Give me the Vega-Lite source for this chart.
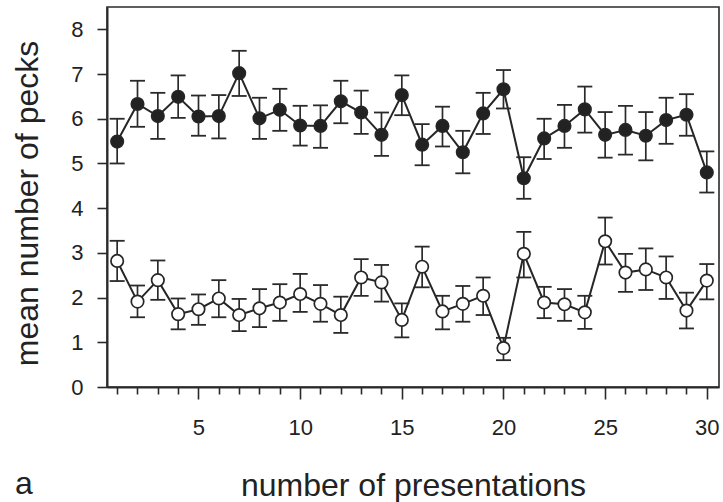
{
  "$schema": "https://vega.github.io/schema/vega-lite/v6.json",
  "width": 612,
  "height": 380,
  "autosize": {"type": "none"},
  "padding": {"left": 107, "top": 7, "right": 4, "bottom": 115},
  "background": "white",
  "config": {
    "view": {"stroke": "#2a2a2a", "strokeWidth": 1.6},
    "font": "Liberation Sans",
    "axis": {"grid": false},
    "axisY": {
      "titleFont": "Liberation Sans",
      "titleFontSize": 32,
      "titleFontWeight": "normal",
      "titleColor": "#222",
      "titleAngle": -90,
      "titleX": -70,
      "titleY": 196,
      "titleAlign": "center",
      "titleBaseline": "alphabetic",
      "labelFont": "Liberation Sans",
      "labelFontSize": 22,
      "labelColor": "#222",
      "labelPadding": 14,
      "tickSize": 10,
      "tickWidth": 1.6,
      "tickColor": "#2a2a2a",
      "domainColor": "#2a2a2a",
      "domainWidth": 2
    }
  },
  "title": {
    "text": "a",
    "orient": "bottom",
    "anchor": "start",
    "frame": "group",
    "fontSize": 32,
    "fontWeight": "normal",
    "font": "Liberation Sans",
    "color": "#222",
    "baseline": "alphabetic",
    "dx": -92,
    "offset": 0,
    "dy": -7
  },
  "data": {
    "values": [
      {"n": 1, "g": "filled", "m": 5.49, "lo": 5.0, "hi": 6.0},
      {"n": 2, "g": "filled", "m": 6.33, "lo": 5.82, "hi": 6.85},
      {"n": 3, "g": "filled", "m": 6.06, "lo": 5.55, "hi": 6.58},
      {"n": 4, "g": "filled", "m": 6.49, "lo": 6.02, "hi": 6.97},
      {"n": 5, "g": "filled", "m": 6.05, "lo": 5.62, "hi": 6.52},
      {"n": 6, "g": "filled", "m": 6.06, "lo": 5.56, "hi": 6.53},
      {"n": 7, "g": "filled", "m": 7.02, "lo": 6.51, "hi": 7.52},
      {"n": 8, "g": "filled", "m": 6.01, "lo": 5.55, "hi": 6.47},
      {"n": 9, "g": "filled", "m": 6.2, "lo": 5.73, "hi": 6.67},
      {"n": 10, "g": "filled", "m": 5.85, "lo": 5.4, "hi": 6.29},
      {"n": 11, "g": "filled", "m": 5.84, "lo": 5.35, "hi": 6.3},
      {"n": 12, "g": "filled", "m": 6.39, "lo": 5.9, "hi": 6.85},
      {"n": 13, "g": "filled", "m": 6.14, "lo": 5.66, "hi": 6.63},
      {"n": 14, "g": "filled", "m": 5.64, "lo": 5.17, "hi": 6.14},
      {"n": 15, "g": "filled", "m": 6.53, "lo": 6.08, "hi": 6.97},
      {"n": 16, "g": "filled", "m": 5.42, "lo": 4.96, "hi": 5.88},
      {"n": 17, "g": "filled", "m": 5.84, "lo": 5.38, "hi": 6.27},
      {"n": 18, "g": "filled", "m": 5.25, "lo": 4.78, "hi": 5.73},
      {"n": 19, "g": "filled", "m": 6.12, "lo": 5.66, "hi": 6.58},
      {"n": 20, "g": "filled", "m": 6.66, "lo": 6.23, "hi": 7.09},
      {"n": 21, "g": "filled", "m": 4.67, "lo": 4.21, "hi": 5.14},
      {"n": 22, "g": "filled", "m": 5.56, "lo": 5.1, "hi": 6.0},
      {"n": 23, "g": "filled", "m": 5.84, "lo": 5.35, "hi": 6.31},
      {"n": 24, "g": "filled", "m": 6.21, "lo": 5.69, "hi": 6.72},
      {"n": 25, "g": "filled", "m": 5.64, "lo": 5.13, "hi": 6.15},
      {"n": 26, "g": "filled", "m": 5.75, "lo": 5.2, "hi": 6.29},
      {"n": 27, "g": "filled", "m": 5.62, "lo": 5.07, "hi": 6.15},
      {"n": 28, "g": "filled", "m": 5.97, "lo": 5.44, "hi": 6.47},
      {"n": 29, "g": "filled", "m": 6.09, "lo": 5.62, "hi": 6.55},
      {"n": 30, "g": "filled", "m": 4.8, "lo": 4.35, "hi": 5.27},
      {"n": 1, "g": "open", "m": 2.82, "lo": 2.37, "hi": 3.27},
      {"n": 2, "g": "open", "m": 1.91, "lo": 1.56, "hi": 2.27},
      {"n": 3, "g": "open", "m": 2.39, "lo": 1.95, "hi": 2.83},
      {"n": 4, "g": "open", "m": 1.63, "lo": 1.29, "hi": 1.98},
      {"n": 5, "g": "open", "m": 1.74, "lo": 1.39, "hi": 2.07},
      {"n": 6, "g": "open", "m": 1.98, "lo": 1.56, "hi": 2.39},
      {"n": 7, "g": "open", "m": 1.61, "lo": 1.25, "hi": 1.97},
      {"n": 8, "g": "open", "m": 1.76, "lo": 1.34, "hi": 2.19},
      {"n": 9, "g": "open", "m": 1.89, "lo": 1.48, "hi": 2.3},
      {"n": 10, "g": "open", "m": 2.08, "lo": 1.68, "hi": 2.53},
      {"n": 11, "g": "open", "m": 1.86, "lo": 1.46, "hi": 2.28},
      {"n": 12, "g": "open", "m": 1.61, "lo": 1.21, "hi": 2.02},
      {"n": 13, "g": "open", "m": 2.45, "lo": 2.04, "hi": 2.86},
      {"n": 14, "g": "open", "m": 2.34, "lo": 1.91, "hi": 2.73},
      {"n": 15, "g": "open", "m": 1.5, "lo": 1.11, "hi": 1.87},
      {"n": 16, "g": "open", "m": 2.69, "lo": 2.23, "hi": 3.14},
      {"n": 17, "g": "open", "m": 1.69, "lo": 1.29, "hi": 2.04},
      {"n": 18, "g": "open", "m": 1.86, "lo": 1.46, "hi": 2.26},
      {"n": 19, "g": "open", "m": 2.04, "lo": 1.61, "hi": 2.45},
      {"n": 20, "g": "open", "m": 0.87, "lo": 0.6, "hi": 1.1},
      {"n": 21, "g": "open", "m": 2.98, "lo": 2.45, "hi": 3.47},
      {"n": 22, "g": "open", "m": 1.89, "lo": 1.54, "hi": 2.24},
      {"n": 23, "g": "open", "m": 1.85, "lo": 1.48, "hi": 2.19},
      {"n": 24, "g": "open", "m": 1.67, "lo": 1.3, "hi": 2.04},
      {"n": 25, "g": "open", "m": 3.26, "lo": 2.74, "hi": 3.79},
      {"n": 26, "g": "open", "m": 2.56, "lo": 2.13, "hi": 2.98},
      {"n": 27, "g": "open", "m": 2.63, "lo": 2.17, "hi": 3.1},
      {"n": 28, "g": "open", "m": 2.45, "lo": 1.97, "hi": 2.92},
      {"n": 29, "g": "open", "m": 1.71, "lo": 1.31, "hi": 2.11},
      {"n": 30, "g": "open", "m": 2.38, "lo": 1.96, "hi": 2.75}
    ]
  },
  "encoding": {
    "x": {
      "field": "n", "type": "quantitative",
      "scale": {"domain": [0.5, 30.6], "nice": false, "zero": false},
      "title": "number of presentations",
      "axis": {
        "values": [1,2,3,4,5,6,7,8,9,10,11,12,13,14,15,16,17,18,19,20,21,22,23,24,25,26,27,28,29,30],
        "labelExpr": "datum.value % 5 === 0 ? datum.label : ''",
        "format": "d",
        "tickSize": {"condition": {"test": "datum.value % 5 === 0", "value": 12}, "value": 7},
        "tickWidth": 1.6, "tickColor": "#2a2a2a",
        "domainColor": "#2a2a2a", "domainWidth": 2,
        "labelFont": "Liberation Sans",
        "labelFontSize": 22,
        "labelColor": "#222",
        "labelPadding": 18,
        "labelOverlap": false,
        "titleFont": "Liberation Sans",
        "titleFontSize": 32,
        "titleFontWeight": "normal",
        "titleColor": "#222",
        "titleX": 306,
        "titleY": 108,
        "titleBaseline": "alphabetic",
        "grid": false
      }
    }
  },
  "layer": [
    {
      "mark": {"type": "line", "color": "#262626", "strokeWidth": 2},
      "encoding": {
        "y": {"field": "m", "type": "quantitative", "scale": {"domain": [0, 8.5], "nice": false}, "title": "mean number of pecks", "axis": {"values": [0,1,2,3,4,5,6,7,8], "format": "d"}},
        "detail": {"field": "g", "type": "nominal"}
      }
    },
    {
      "mark": {"type": "rule", "color": "#2a2a2a", "strokeWidth": 1.7},
      "encoding": {
        "y": {"field": "lo", "type": "quantitative", "scale": {"domain": [0, 8.5], "nice": false}, "title": "mean number of pecks", "axis": {"values": [0,1,2,3,4,5,6,7,8], "format": "d"}},
        "y2": {"field": "hi"}
      }
    },
    {
      "mark": {"type": "tick", "orient": "horizontal", "color": "#2a2a2a", "size": 15, "thickness": 1.8, "opacity": 1},
      "encoding": {
        "y": {"field": "lo", "type": "quantitative", "scale": {"domain": [0, 8.5], "nice": false}, "title": "mean number of pecks", "axis": {"values": [0,1,2,3,4,5,6,7,8], "format": "d"}}
      }
    },
    {
      "mark": {"type": "tick", "orient": "horizontal", "color": "#2a2a2a", "size": 15, "thickness": 1.8, "opacity": 1},
      "encoding": {
        "y": {"field": "hi", "type": "quantitative", "scale": {"domain": [0, 8.5], "nice": false}, "title": "mean number of pecks", "axis": {"values": [0,1,2,3,4,5,6,7,8], "format": "d"}}
      }
    },
    {
      "mark": {"type": "point", "shape": "circle", "filled": false, "size": 155, "stroke": "#262626", "strokeWidth": 1.7, "opacity": 1},
      "encoding": {
        "y": {"field": "m", "type": "quantitative", "scale": {"domain": [0, 8.5], "nice": false}, "title": "mean number of pecks", "axis": {"values": [0,1,2,3,4,5,6,7,8], "format": "d"}},
        "fill": {
          "field": "g", "type": "nominal",
          "scale": {"domain": ["filled", "open"], "range": ["#222222", "#ffffff"]},
          "legend": null
        }
      }
    }
  ]
}
